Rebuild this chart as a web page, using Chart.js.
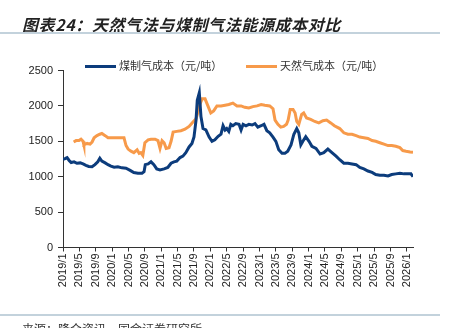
<!DOCTYPE html>
<html>
<head>
<meta charset="utf-8">
<script src="https://cdn.jsdelivr.net/npm/chart.js@4.4.0/dist/chart.umd.min.js"></script>
<style>
  html, body { margin: 0; padding: 0; background: #fff; }
  #wrap { position: relative; width: 455px; height: 328px; overflow: hidden; font-family: "Noto Sans CJK SC", "Liberation Sans", sans-serif; }
  #c { position: absolute; left: 0; top: 0; }
  .title { position: absolute; left: 22px; top: 12px; font-size: 16px; font-weight: bold; font-style: italic; color: #222; letter-spacing: 0.6px; white-space: nowrap; }
  .rule { position: absolute; left: 0; width: 440px; height: 2px; background: #c3d2dc; }
  .leg { position: absolute; top: 57px; font-size: 11px; color: #333; white-space: nowrap; line-height: 16px; }
  .leg i { display: inline-block; width: 31px; height: 3px; vertical-align: middle; margin-right: 3px; position: relative; top: -1px; }
  .src { position: absolute; left: 22px; top: 320px; font-size: 12px; color: #333; white-space: nowrap; }
</style>
</head>
<body>
<div id="wrap">
  <canvas id="c" width="455" height="328"></canvas>
  <div class="title">图表24：天然气法与煤制气法能源成本对比</div>
  <div class="rule" style="top:32px"></div>
  <div class="leg" style="left:85px"><i style="background:#0c3c7c"></i>煤制气成本（元/吨）</div>
  <div class="leg" style="left:246px"><i style="background:#f79a4a"></i>天然气成本（元/吨）</div>
  <div class="rule" style="top:314px"></div>
  <div class="src">来源：隆众资讯，国金证券研究所</div>
</div>
<script>
// x = months since 2019/1
const coalMonths = [0, 0.5, 1.0, 1.5, 2.0, 2.7, 3.4, 4.2, 4.9, 5.6, 6.3, 7.1, 7.8, 8.5, 9.0, 9.5, 10.3, 11.0, 11.7, 12.5,
  13.4, 14.4, 15.4, 16.4, 17.3, 18.3, 19.3, 19.8, 20.1, 20.8, 21.5, 22.2, 22.9, 23.7, 24.7, 25.6, 26.4, 27.1, 27.8, 28.6,
  29.3, 30.0, 30.8, 31.5, 32.0, 32.5, 32.8, 33.3, 33.7, 34.2, 34.9, 35.7, 36.4, 37.1, 37.9, 38.6, 39.1, 39.6, 40.0, 40.5,
  41.0, 41.5, 42.2, 43.0, 43.5, 44.0, 44.7, 45.4, 46.2, 46.9, 47.6, 48.4, 49.1, 49.8, 50.5, 51.3, 52.0, 52.7, 53.5, 54.2,
  54.9, 55.7, 56.4, 57.1, 57.6, 58.1, 58.6, 59.3, 60.1, 60.8, 61.8, 62.8, 63.7, 64.7, 65.7, 66.7, 67.6, 68.6, 69.6, 70.6,
  71.6, 72.5, 73.5, 74.5, 75.5, 76.4, 77.4, 78.4, 79.4, 80.3, 81.3, 82.3, 83.3, 84.2, 85.0, 85.5];
const coalCost = [1245, 1255, 1270, 1230, 1200, 1210, 1190, 1195, 1180, 1160, 1145, 1140, 1170, 1210, 1260, 1220, 1195, 1170, 1150, 1135,
  1140, 1125, 1120, 1090, 1060, 1050, 1050, 1070, 1170, 1180, 1210, 1170, 1110, 1095, 1110, 1130, 1190, 1210, 1220, 1270,
  1290, 1340, 1420, 1470, 1560, 1800, 2080, 2186, 1850, 1680, 1660, 1560, 1500, 1520, 1570, 1600, 1720, 1660, 1680, 1640,
  1740, 1720, 1750, 1740, 1660, 1740, 1720, 1740, 1730, 1750, 1700, 1720, 1740, 1650, 1620, 1560, 1500, 1380, 1330, 1330,
  1360, 1450, 1600, 1680, 1620, 1450, 1500, 1565, 1500, 1430, 1400, 1320, 1340, 1390, 1340, 1290, 1240, 1190, 1190, 1180,
  1170, 1130, 1110, 1080, 1060, 1030, 1020, 1020, 1010, 1030, 1040, 1050, 1040, 1040, 1040, 1000];

const gasMonths = [2.6, 3.2, 3.9, 4.4, 4.9, 5.1, 5.9, 6.6, 7.1, 7.6, 8.3, 9.0, 9.5, 10.3, 11.0, 12.0, 12.9, 13.9, 14.9, 15.4,
  15.9, 16.6, 17.3, 18.1, 18.6, 19.0, 19.5, 20.0, 20.8, 21.5, 22.5, 23.2, 23.7, 24.2, 24.7, 25.2, 25.9, 26.4, 26.9, 27.8,
  28.8, 29.8, 30.8, 31.7, 32.5, 33.0, 33.5, 34.0, 34.7, 35.4, 36.1, 36.8, 37.6, 38.6, 39.6, 40.5, 41.5, 42.5, 43.5, 44.4,
  45.4, 46.4, 47.4, 48.4, 49.3, 50.5, 51.3, 51.8, 52.5, 53.2, 53.9, 54.6, 55.0, 55.5, 56.2, 56.7, 57.1, 57.6, 58.3, 58.8,
  59.5, 60.5, 61.5, 62.5, 63.5, 64.4, 65.4, 66.3, 67.6, 68.6, 69.6, 70.6, 71.6, 72.5, 73.5, 74.5, 75.5, 76.4, 77.4, 78.4,
  79.4, 80.3, 81.3, 82.3, 83.0, 83.8, 84.8, 85.5];
const gasCost = [1490, 1510, 1510, 1530, 1500, 1450, 1470, 1460, 1490, 1550, 1580, 1600, 1610, 1580, 1550, 1550, 1550, 1550, 1550, 1440,
  1390, 1360, 1340, 1380, 1330, 1340, 1300, 1480, 1520, 1530, 1530, 1510, 1400, 1510, 1480, 1400, 1410, 1500, 1630, 1640,
  1650, 1670, 1710, 1770, 1820, 1920, 2030, 2100, 2100, 2000, 1900, 1930, 2000, 2000, 2010, 2020, 2040, 2000, 2000, 1980,
  1970, 1990, 2000, 2020, 2010, 2000, 1960, 1800, 1740, 1700, 1710, 1740, 1800, 1950, 1950, 1900, 1780, 1740, 1880, 1900,
  1830, 1810, 1780, 1760, 1790, 1800, 1760, 1720, 1680, 1620, 1600, 1600, 1580, 1560, 1550, 1540, 1510, 1500, 1480, 1460,
  1440, 1440, 1430, 1410, 1370, 1360, 1350, 1345];

const xTickMonths = [0, 4, 8, 12, 16, 20, 24, 28, 32, 36, 40, 44, 48, 52, 56, 60, 64, 68, 72, 76, 80, 84];
const xTickLabels = ['2019/1', '2019/5', '2019/9', '2020/1', '2020/5', '2020/9', '2021/1', '2021/5', '2021/9', '2022/1', '2022/5',
  '2022/9', '2023/1', '2023/5', '2023/9', '2024/1', '2024/5', '2024/9', '2025/1', '2025/5', '2025/9', '2026/1'];
const yTicks = [0, 500, 1000, 1500, 2000, 2500];

const tickFont = { family: 'Liberation Sans', size: 11 };

new Chart(document.getElementById('c'), {
  type: 'line',
  data: {
    datasets: [
      {
        label: '煤制气成本（元/吨）',
        data: coalMonths.map((m, i) => ({ x: m, y: coalCost[i] })),
        borderColor: '#0c3c7c',
        borderWidth: 3,
        pointRadius: 0,
        tension: 0
      },
      {
        label: '天然气成本（元/吨）',
        data: gasMonths.map((m, i) => ({ x: m, y: gasCost[i] })),
        borderColor: '#f79a4a',
        borderWidth: 3,
        pointRadius: 0,
        tension: 0
      }
    ]
  },
  options: {
    responsive: false,
    animation: false,
    layout: { padding: { top: 70.5, right: 42, left: 0, bottom: 0 } },
    plugins: { legend: { display: false }, tooltip: { enabled: false } },
    scales: {
      x: {
        type: 'linear',
        min: 0,
        max: 85.5,
        afterBuildTicks: s => { s.ticks = xTickMonths.map(v => ({ value: v })); },
        afterFit: s => { s.height = 80.5; },
        ticks: {
          font: tickFont,
          color: '#222',
          minRotation: 90,
          maxRotation: 90,
          padding: 2,
          callback: (v) => xTickLabels[xTickMonths.indexOf(v)]
        },
        grid: { drawOnChartArea: false, drawTicks: true, tickLength: 4, color: '#333' },
        border: { display: true, color: '#333', width: 1 }
      },
      y: {
        min: 0,
        max: 2500,
        afterBuildTicks: s => { s.ticks = yTicks.map(v => ({ value: v })); },
        afterFit: s => { s.width = 63; },
        ticks: { font: tickFont, color: '#222', padding: 5, callback: v => String(v) },
        grid: { drawOnChartArea: false, drawTicks: true, tickLength: 5, color: '#333' },
        border: { display: true, color: '#333', width: 1 }
      }
    }
  }
});
</script>
</body>
</html>
